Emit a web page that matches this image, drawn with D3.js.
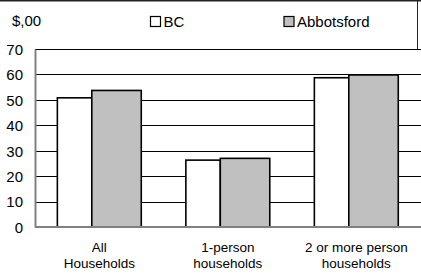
<!DOCTYPE html>
<html><head><meta charset="utf-8">
<script src="https://cdn.jsdelivr.net/npm/d3@7"></script>
<style>
html,body{margin:0;padding:0;background:#fff;overflow:hidden}
text{font-family:"Liberation Sans",Arial,sans-serif;fill:#000}
</style></head>
<body>
<svg id="c" width="421" height="277"></svg>
<script>
const categories = [["All","Households"],["1-person","households"],["2 or more person","households"]];
const seriesNames = ["BC","Abbotsford"];
const bcValues = [50.8, 26.3, 58.7];
const abbotsfordValues = [53.7, 27.0, 59.8];
const yTicks = [0,10,20,30,40,50,60,70];
const unitLabel = "$,00";

const svg = d3.select("#c");
const W = 421, H = 277;
const m = {left:35, right:0.5, top:49, bottom:50};
const x0 = d3.scaleBand().domain(d3.range(categories.length)).range([m.left, W - m.right]).paddingInner(0).paddingOuter(0);
const y = d3.scaleLinear().domain([0,70]).range([H - m.bottom, m.top]);
const bw = x0.bandwidth();
const barGeom = [{off:0.174, w:0.268, fill:"#ffffff"}, {off:0.442, w:0.385, fill:"#c0c0c0"}];
const seriesVals = [bcValues, abbotsfordValues];

// top frame line and right edge above plot
svg.append("line").attr("x1",0).attr("x2",W).attr("y1",0.75).attr("y2",0.75)
  .attr("stroke","#222").attr("stroke-width",1.5);
svg.append("line").attr("x1",417.5).attr("x2",417.5).attr("y1",0).attr("y2",y(70))
  .attr("stroke","#222").attr("stroke-width",1);

// gridlines
svg.append("g").selectAll("line").data(yTicks.filter(d=>d>0)).join("line")
  .attr("x1",m.left).attr("x2",W).attr("y1",d=>Math.round(y(d))+0.5).attr("y2",d=>Math.round(y(d))+0.5)
  .attr("stroke","#000").attr("stroke-width",1);

// y axis
const yAxis = d3.axisLeft(y).tickValues(yTicks).tickSize(0).tickPadding(12);
const ga = svg.append("g").attr("transform",`translate(${m.left},0)`).call(yAxis);
ga.select(".domain").attr("stroke","#808080").attr("stroke-width",2);
ga.selectAll("text").attr("font-size","15px").attr("font-family","Liberation Sans, Arial, sans-serif").attr("fill","#000").attr("dy","0.36em");

// bars
seriesVals.forEach((vals,si)=>{
  svg.append("g").selectAll("rect").data(vals).join("rect")
    .attr("x",(d,i)=>x0(i)+barGeom[si].off*bw)
    .attr("width",barGeom[si].w*bw)
    .attr("y",d=>y(d))
    .attr("height",d=>y(0)-y(d))
    .attr("fill",barGeom[si].fill)
    .attr("stroke","#000").attr("stroke-width",1.6);
});

// x axis line
svg.append("line").attr("x1",m.left).attr("x2",W).attr("y1",y(0)).attr("y2",y(0))
  .attr("stroke","#808080").attr("stroke-width",2);

// category labels
const cg = svg.append("g").selectAll("text").data(categories).join("text")
  .attr("text-anchor","middle").attr("font-size","13.5px")
  .attr("x",(d,i)=>x0(i)+ (barGeom[0].off + (barGeom[1].off+barGeom[1].w - barGeom[0].off)/2)*bw)
  .attr("y",252);
cg.selectAll("tspan").data(d=>d).join("tspan")
  .attr("x",function(){return d3.select(this.parentNode).attr("x");})
  .attr("dy",(d,i)=>i===0?0:16).text(d=>d);

// legend
svg.append("text").attr("x",12).attr("y",26).attr("font-size","15px").text(unitLabel);
const legX = [150.5, 284];
seriesNames.forEach((s,i)=>{
  svg.append("rect").attr("x",legX[i]).attr("y",16.5).attr("width",10).attr("height",10)
    .attr("fill",barGeom[i].fill).attr("stroke","#000").attr("stroke-width",1.2);
  svg.append("text").attr("x",legX[i]+13).attr("y",26.5).attr("font-size","15px").text(s);
});
</script>
</body></html>
